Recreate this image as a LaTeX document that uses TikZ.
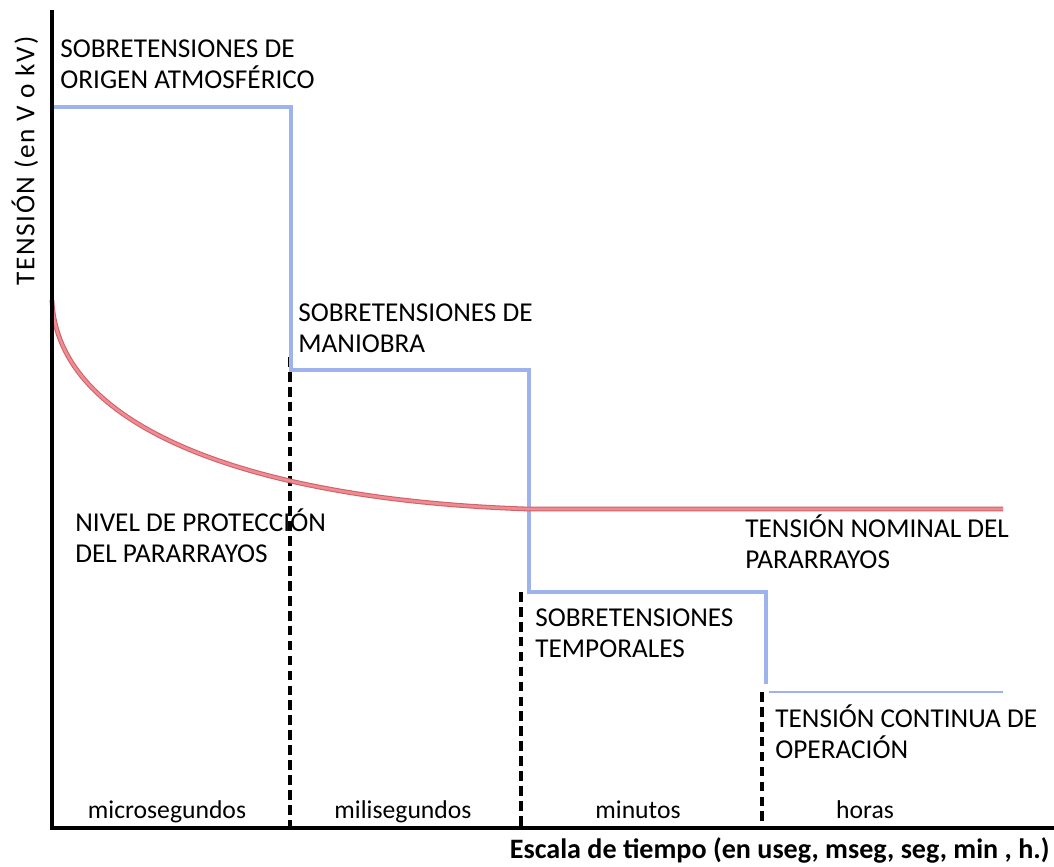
\documentclass[tikz,border=0pt]{standalone}
\usepackage{fontspec}
\setmainfont{Carlito}
\usetikzlibrary{positioning}
\definecolor{surgeblue}{RGB}{158,178,236}
\definecolor{arrestedge}{RGB}{208,96,106}
\definecolor{arrestfill}{RGB}{238,140,146}

\begin{document}
\begin{tikzpicture}[x=0.02cm,y=-0.02cm,
    axis/.style={line width=2.2pt,black},
    surge/.style={line width=2.6pt,surgeblue},
    arrester/.style={line width=0.6pt,draw=arrestedge,double=arrestfill,double distance=1.5pt},
    region/.style={line width=2.2pt,black,dash pattern=on 5.5pt off 3pt},
    lbl/.style={anchor=base west,align=left,inner sep=0pt,font=\fontsize{15.5}{17.6}\selectfont},
    scalelbl/.style={anchor=base,inner sep=0pt,font=\fontsize{14.6}{17.6}\selectfont}]
    \useasboundingbox (0,0) rectangle (1054,866);
    \coordinate (o) at (52,828);
    \coordinate (ytop) at (52,10);
    \coordinate (xend) at (1054,828);
    \coordinate (a1) at (52,107);
    \coordinate (a2) at (291,107);
    \coordinate (m1) at (291,370);
    \coordinate (m2) at (529,370);
    \coordinate (t1) at (529,592);
    \coordinate (t2) at (766,592);
    \coordinate (c1) at (766,684);
    \coordinate (c2) at (769,692);
    \coordinate (c3) at (1003,692);
    \coordinate (r0) at (52,300);
    \coordinate (r1) at (528,509);
    \coordinate (r2) at (1003,509);
    \coordinate (d1) at (290,357);
    \coordinate (d1b) at (290,828);
    \coordinate (d2) at (521,592);
    \coordinate (d2b) at (521,828);
    \coordinate (d3) at (762,692);
    \coordinate (d3b) at (762,828);
    \draw[region] (d1) -- (d1b);
    \draw[region] (d2) -- (d2b);
    \draw[region] (d3) -- (d3b);
    \draw[surge] (a1) -- (a2) -- (m1) -- (m2) -- (t1) -- (t2) -- (c1);
    \draw[surge,line width=1.4pt] (c2) -- (c3);
    \draw[arrester] (r0) .. controls (57,428) and (252,500) .. (r1) -- (r2);
    \draw[axis] (ytop) -- (o) -- (xend);
    \node[lbl] (atmos) at (60,88) {SOBRETENSIONES DE\\ORIGEN ATMOSFÉRICO};
    \node[lbl] (maniobra) at (298,352) {SOBRETENSIONES DE\\MANIOBRA};
    \node[lbl] (temporal) at (535,657) {SOBRETENSIONES\\TEMPORALES};
    \node[lbl] (continua) at (775,758) {TENSIÓN CONTINUA DE\\OPERACIÓN};
    \node[lbl] (nominal) at (745,568) {TENSIÓN NOMINAL DEL\\PARARRAYOS};
    \node[lbl] (nivel) at (75,562) {NIVEL DE PROTECCIÓN\\DEL PARARRAYOS};
    \node[scalelbl] (micro) at (167,818) {microsegundos};
    \node[scalelbl] (mili) at (403,818) {milisegundos};
    \node[scalelbl] (minu) at (638,818) {minutos};
    \node[scalelbl] (horas) at (865,818) {horas};
    \node[anchor=base east,inner sep=0pt,font=\fontsize{16}{18}\selectfont\bfseries] (escala) at (1050,858) {Escala de tiempo (en useg, mseg, seg, min , h.)};
    \node[rotate=90,inner sep=0pt,font=\fontsize{15.5}{18}\selectfont\addfontfeature{LetterSpace=6}] (tension) at (25,161) {TENSIÓN (en V o kV)};
\end{tikzpicture}
\end{document}
